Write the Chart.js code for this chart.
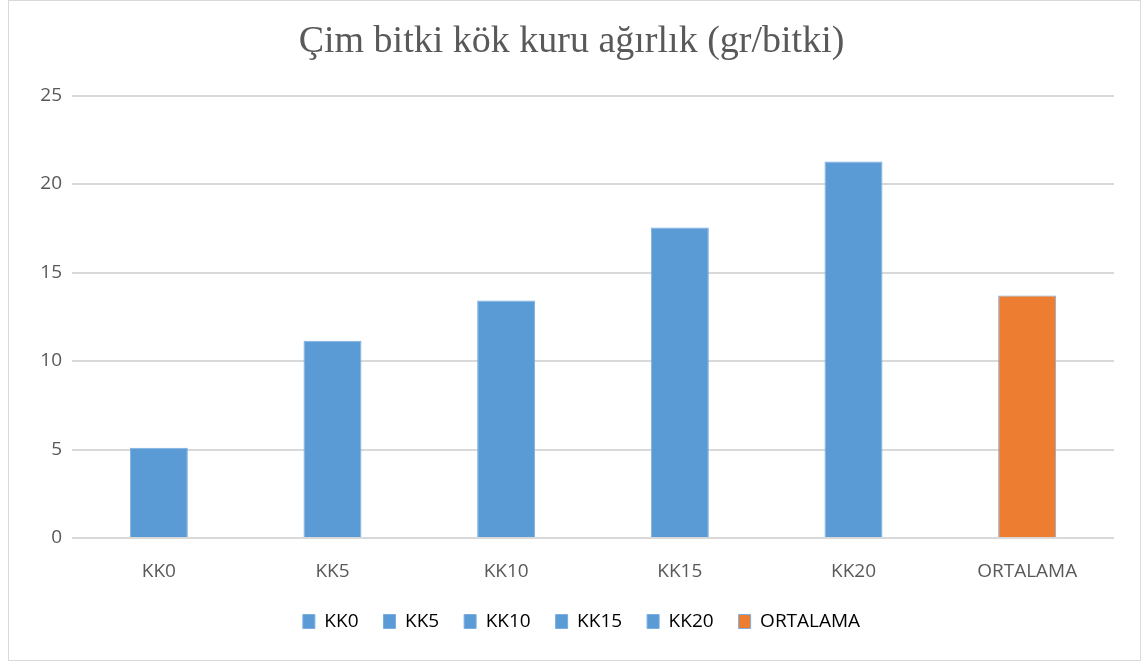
<!DOCTYPE html>
<html>
<head>
<meta charset="utf-8">
<script src="https://cdn.jsdelivr.net/npm/chart.js@4/dist/chart.umd.min.js"></script>
<style>
  body { margin: 0; background: #fff; }
  #wrap {
    position: absolute; left: 8px; top: 0;
    width: 1131px; height: 659px;
    border: 1px solid #d9d9d9;
  }
</style>
</head>
<body>
<div id="wrap"><canvas id="chart" width="1131" height="659"></canvas></div>
<script>
// kategoriler ve değerler
const categories = ['KK0', 'KK5', 'KK10', 'KK15', 'KK20', 'ORTALAMA'];
const values = [5.1, 11.15, 13.42, 17.55, 21.28, 13.7];
const barColors = ['#5b9bd5', '#5b9bd5', '#5b9bd5', '#5b9bd5', '#5b9bd5', '#ed7d31'];
const yTicks = [0, 5, 10, 15, 20, 25];
const titleText = 'Çim bitki kök kuru ağırlık (gr/bitki)';

const textColor = '#595959';
const gridColor = '#d9d9d9';
const labelFont = { family: '"Open Sans", sans-serif', size: 19 };

// başlık ve lejantı Excel'deki gibi biraz sağa kaydır
const shiftBoxes = {
    id: 'shiftBoxes',
    afterLayout(chart) {
        chart.titleBlock.left += 10;
        chart.titleBlock.right += 10;
        chart.legend.left += 20;
        chart.legend.right += 20;
    },
};

const ctx = document.getElementById('chart').getContext('2d');
new Chart(ctx, {
    type: 'bar',
    data: {
        labels: categories,
        datasets: [{
            data: values,
            backgroundColor: barColors,
            borderColor: '#7aaee0',
            borderWidth: 1,
            categoryPercentage: 1,
            barPercentage: 0.334,
        }],
    },
    plugins: [shiftBoxes],
    options: {
        responsive: false,
        animation: false,
        layout: { padding: { left: 0, right: 26, top: 0, bottom: 19 } },
        plugins: {
            tooltip: { enabled: false },
            title: {
                display: true,
                text: titleText,
                color: textColor,
                font: { family: '"Liberation Serif", "Times New Roman", serif', size: 38, weight: 'normal' },
                padding: { top: 18, bottom: 31 },
            },
            legend: {
                display: true,
                position: 'bottom',
                labels: {
                    color: textColor,
                    font: labelFont,
                    boxWidth: 12,
                    boxHeight: 14,
                    padding: 25,
                    generateLabels: (chart) => categories.map((c, i) => ({
                        text: c,
                        fillStyle: barColors[i],
                        strokeStyle: '#7aaee0',
                        lineWidth: 1,
                        index: i,
                    })),
                },
            },
        },
        scales: {
            x: {
                grid: { display: false, drawTicks: false },
                border: { display: false },
                ticks: { color: textColor, font: labelFont, padding: 22 },
                afterFit: (axis) => { axis.height = 49; },
            },
            y: {
                min: 0,
                max: 25,
                grid: { color: gridColor, lineWidth: 2, drawTicks: false },
                border: { display: false },
                ticks: {
                    color: textColor,
                    font: labelFont,
                    padding: 10,
                    stepSize: 5,
                    callback: (v) => yTicks.includes(v) ? v : '',
                },
                afterFit: (axis) => { axis.width = 63; },
            },
        },
    },
});
</script>
</body>
</html>
